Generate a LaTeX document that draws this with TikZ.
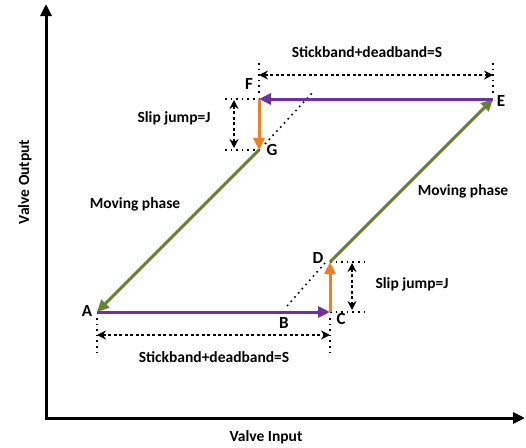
\documentclass[tikz,border=0pt]{standalone}
\usepackage{fontspec}
\setmainfont{Carlito}
\usetikzlibrary{arrows.meta}
\definecolor{vpurple}{RGB}{112,48,160}
\definecolor{vgreen}{RGB}{100,130,50}
\definecolor{vorange}{RGB}{240,125,30}
\begin{document}
\begin{tikzpicture}[x=1pt,y=-1pt,
  axis/.style={line width=3pt,{Triangle[length=12pt,width=11pt]}-{Triangle[length=12pt,width=11pt]}},
  phase/.style={line width=3pt,-{Triangle[length=12pt,width=11pt]}},
  dim/.style={line width=1.5pt,dash pattern=on 3pt off 2.5pt,{Stealth[length=9pt,width=9pt]}-{Stealth[length=9pt,width=9pt]}},
  guide/.style={line width=1.6pt,dash pattern=on 1.6pt off 4pt},
  lbl/.style={font=\bfseries\fontsize{15.5}{18}\selectfont,inner sep=0pt},
  pt/.style={font=\bfseries\fontsize{17}{19}\selectfont,inner sep=0pt}]
\useasboundingbox (0,0) rectangle (526,447);
% axes
\coordinate (O) at (46,418);
\coordinate (ytop) at (46,4);
\coordinate (xend) at (525,418);
\draw[axis] (ytop) -- (O) -- (xend);
\node[lbl,rotate=90] (yl) at (25,182) {Valve Output};
\node[lbl] (xl) at (266,437) {Valve Input};
% key points
\coordinate (A) at (97,312);
\coordinate (C) at (330,312);
\coordinate (D) at (330,262);
\coordinate (E) at (493,99);
\coordinate (F) at (259,99);
\coordinate (G) at (259,150);
\coordinate (Bd) at (287,306);
\coordinate (Dd) at (325,263);
\coordinate (Gd) at (265,144);
\coordinate (Fd) at (313,92);
% guides
\draw[guide] (Bd) -- (Dd);
\draw[guide] (Gd) -- (Fd);
\coordinate (Dr) at (364,262);
\coordinate (Cr) at (364,312);
\draw[guide] (D) -- (Dr);
\draw[guide] (C) -- (Cr);
\coordinate (Fl) at (225,99);
\coordinate (Gl) at (225,150);
\draw[guide] (Fl) -- (F);
\draw[guide] (Gl) -- (G);
\coordinate (At) at (97,318);
\coordinate (Ab) at (97,352);
\coordinate (Ct) at (330,318);
\coordinate (Cb) at (330,352);
\draw[guide] (At) -- (Ab);
\draw[guide] (Ct) -- (Cb);
\coordinate (Ft) at (259,63);
\coordinate (Fb) at (259,96);
\coordinate (Et) at (493,63);
\coordinate (Eb) at (493,95);
\draw[guide] (Ft) -- (Fb);
\draw[guide] (Et) -- (Eb);
% dimension arrows
\coordinate (d1a) at (97,335);
\coordinate (d1b) at (330,335);
\draw[dim] (d1a) -- (d1b);
\coordinate (d2a) at (259,75);
\coordinate (d2b) at (493,75);
\draw[dim] (d2a) -- (d2b);
\coordinate (d3a) at (352,263);
\coordinate (d3b) at (352,310);
\draw[dim] (d3a) -- (d3b);
\coordinate (d4a) at (234,100);
\coordinate (d4b) at (234,148);
\draw[dim] (d4a) -- (d4b);
% phases
\draw[phase,vpurple] (A) -- (C);
\draw[phase,vorange] (C) -- (D);
\draw[phase,vgreen] (D) -- (E);
\draw[phase,vpurple] (E) -- (F);
\draw[phase,vorange] (F) -- (G);
\draw[phase,vgreen] (G) -- (A);
% labels
\node[pt] (lA) at (87,311) {A};
\node[pt] (lB) at (284,323) {B};
\node[pt] (lC) at (341,319) {C};
\node[pt] (lD) at (318,258) {D};
\node[pt] (lE) at (501,101) {E};
\node[pt] (lF) at (249,84) {F};
\node[pt] (lG) at (272,150) {G};
\node[lbl] (s1) at (214,357) {Stickband+deadband=S};
\node[lbl] (s2) at (367,52) {Stickband+deadband=S};
\node[lbl] (j1) at (174,118) {Slip jump=J};
\node[lbl] (j2) at (412,284) {Slip jump=J};
\node[lbl] (m1) at (135,204) {Moving phase};
\node[lbl] (m2) at (463,191) {Moving phase};
\end{tikzpicture}
\end{document}
